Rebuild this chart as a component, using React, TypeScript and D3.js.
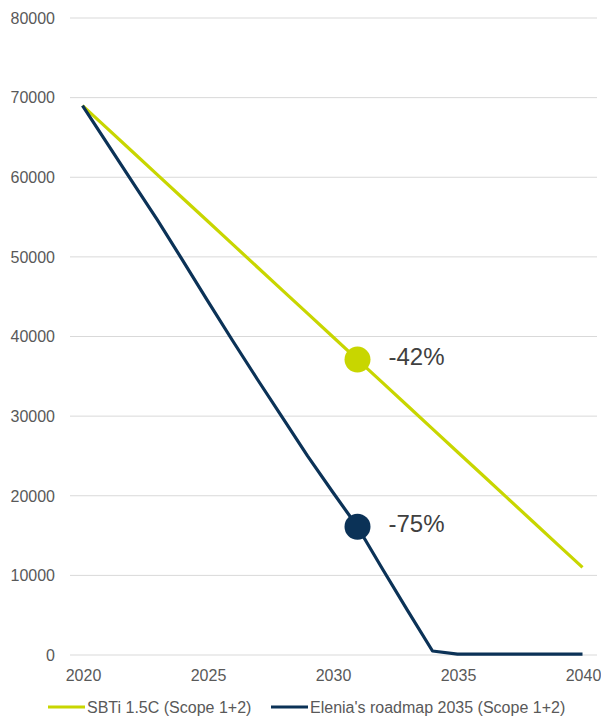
import { useEffect, useRef } from "react";
import * as d3 from "d3";

const years = [
  "2020", "2021", "2022", "2023", "2024", "2025", "2026", "2027", "2028", "2029", "2030",
  "2031", "2032", "2033", "2034", "2035", "2036", "2037", "2038", "2039", "2040",
];
const sbtiValues = [
  69000, 66100, 63200, 60300, 57400, 54500, 51600, 48700, 45800, 42900, 40000,
  37100, 34200, 31300, 28400, 25500, 22600, 19700, 16800, 13900, 11000,
];
const eleniaValues = [
  69000, 64200, 59400, 54600, 49600, 44500, 39500, 34600, 29800, 25000, 20500,
  16100, 10800, 5600, 500, 100, 100, 100, 100, 100, 100,
];
const yTicks = [0, 10000, 20000, 30000, 40000, 50000, 60000, 70000, 80000];
const xLabels = ["2020", "2025", "2030", "2035", "2040"];
const seriesNames = ["SBTi 1.5C (Scope 1+2)", "Elenia's roadmap 2035 (Scope 1+2)"];
const callouts = [
  { year: "2031", value: 37100, label: "-42%" },
  { year: "2031", value: 16100, label: "-75%" },
];

const lime = "#c8d600";
const navy = "#0b3257";
const font = "Liberation Sans, Arial, sans-serif";

function App() {
  const ref = useRef<SVGSVGElement>(null);

  useEffect(() => {
    const svg = d3.select(ref.current);
    svg.selectAll("*").remove();

    const x = d3.scalePoint().domain(years).range([70, 595]).padding(0.5);
    const y = d3.scaleLinear().domain([0, 80000]).range([655, 18]);

    // gridlines
    svg.append("g")
      .selectAll("line")
      .data(yTicks)
      .enter()
      .append("line")
      .attr("x1", 70)
      .attr("x2", 597)
      .attr("y1", (d) => y(d))
      .attr("y2", (d) => y(d))
      .attr("stroke", "#d9d9d9")
      .attr("stroke-width", 1);

    svg.append("g")
      .selectAll("text")
      .data(yTicks)
      .enter()
      .append("text")
      .attr("x", 55)
      .attr("y", (d) => y(d))
      .attr("dy", "0.36em")
      .attr("text-anchor", "end")
      .attr("font-family", font)
      .attr("font-size", 16)
      .attr("fill", "#595959")
      .text((d) => d);

    svg.append("g")
      .selectAll("text")
      .data(xLabels)
      .enter()
      .append("text")
      .attr("x", (d) => x(d)! + 1)
      .attr("y", 681)
      .attr("text-anchor", "middle")
      .attr("font-family", font)
      .attr("font-size", 16)
      .attr("fill", "#595959")
      .text((d) => d);

    const line = d3
      .line<number>()
      .x((_, i) => x(years[i])!)
      .y((d) => y(d));

    svg.append("path")
      .datum(sbtiValues)
      .attr("d", line)
      .attr("fill", "none")
      .attr("stroke", lime)
      .attr("stroke-width", 3.2)
      .attr("stroke-linejoin", "round");

    svg.append("path")
      .datum(eleniaValues)
      .attr("d", line)
      .attr("fill", "none")
      .attr("stroke", navy)
      .attr("stroke-width", 3.2)
      .attr("stroke-linejoin", "round");

    const colors = [lime, navy];
    callouts.forEach((c, i) => {
      svg.append("circle")
        .attr("cx", x(c.year)!)
        .attr("cy", y(c.value))
        .attr("r", 13)
        .attr("fill", colors[i]);
      svg.append("text")
        .attr("x", x(c.year)! + 31)
        .attr("y", y(c.value) - 3)
        .attr("dy", "0.36em")
        .attr("font-family", font)
        .attr("font-size", 24)
        .attr("fill", "#404040")
        .text(c.label);
    });

    // legend
    const legendX = [48, 271];
    seriesNames.forEach((name, i) => {
      svg.append("line")
        .attr("x1", legendX[i])
        .attr("x2", legendX[i] + 37)
        .attr("y1", 707)
        .attr("y2", 707)
        .attr("stroke", colors[i])
        .attr("stroke-width", 3.2);
      svg.append("text")
        .attr("x", legendX[i] + 39)
        .attr("y", 707)
        .attr("dy", "0.36em")
        .attr("font-family", font)
        .attr("font-size", 16)
        .attr("fill", "#595959")
        .text(name);
    });
  }, []);

  return (
    <svg
      ref={ref}
      width={601}
      height={716}
      style={{ position: "absolute", left: 0, top: 0, background: "#fff" }}
    />
  );
}

export default App;
